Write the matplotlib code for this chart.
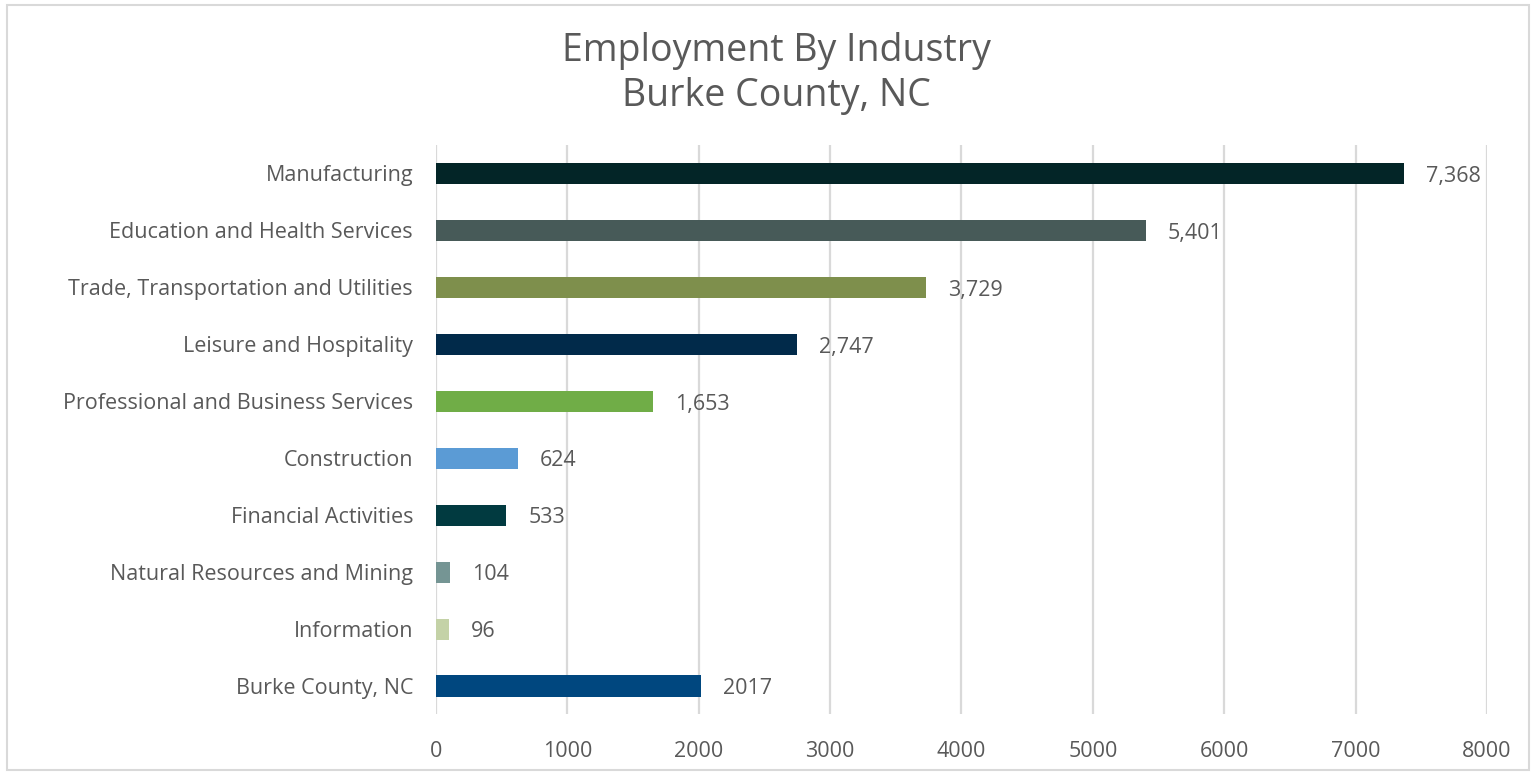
import matplotlib
matplotlib.use("Agg")
import matplotlib.pyplot as plt
from matplotlib.patches import Rectangle

plt.rcParams['font.family'] = ['Open Sans', 'DejaVu Sans']

categories = [
    "Manufacturing",
    "Education and Health Services",
    "Trade, Transportation and Utilities",
    "Leisure and Hospitality",
    "Professional and Business Services",
    "Construction",
    "Financial Activities",
    "Natural Resources and Mining",
    "Information",
    "Burke County, NC",
]
values = [7368, 5401, 3729, 2747, 1653, 624, 533, 104, 96, 2017]
value_labels = ["7,368", "5,401", "3,729", "2,747", "1,653", "624", "533", "104", "96", "2017"]
colors = ["#032527", "#475A58", "#7E8F4C", "#012A4A", "#70AD47",
          "#5B9BD5", "#013A40", "#759594", "#C4D2A7", "#00477F"]
x_ticks = [0, 1000, 2000, 3000, 4000, 5000, 6000, 7000, 8000]

text_color = "#595959"
grid_color = "#D9D9D9"
fs = 15.5

fig = plt.figure(figsize=(15.35, 7.74), dpi=100)
fig.patch.set_facecolor("white")
fig.patches.append(Rectangle((7 / 1535, 4 / 774), 1522 / 1535, 765 / 774,
                             transform=fig.transFigure, fill=False,
                             edgecolor="#D9D9D9", linewidth=1.5))

ax = fig.add_axes([0.2840, 0.0769, 0.6847, 0.7358])
y = list(range(len(categories)))
ax.barh(y, values, height=0.37, color=colors, zorder=3)
ax.set_ylim(len(categories) - 0.5, -0.5)
ax.set_xlim(0, 8000)
ax.set_yticks(y)
ax.set_yticklabels(categories, fontsize=fs, color=text_color)
ax.set_xticks(x_ticks)
ax.set_xticklabels([str(t) for t in x_ticks], fontsize=fs, color=text_color)
ax.tick_params(axis="both", length=0)
ax.tick_params(axis="y", pad=16.5)
ax.tick_params(axis="x", pad=19)
ax.grid(axis="x", color=grid_color, linewidth=1.6, zorder=0)
for s in ax.spines.values():
    s.set_visible(False)

for yi, v, lab in zip(y, values, value_labels):
    ax.annotate(lab, (v, yi), xytext=(16, -2), textcoords="offset points",
                va="center", ha="left", fontsize=fs, color=text_color)

fig.text(0.5055, 0.905, "Employment By Industry\nBurke County, NC",
         ha="center", va="center", fontsize=27, color=text_color,
         linespacing=1.25)

fig.savefig("out.png", dpi=100)
